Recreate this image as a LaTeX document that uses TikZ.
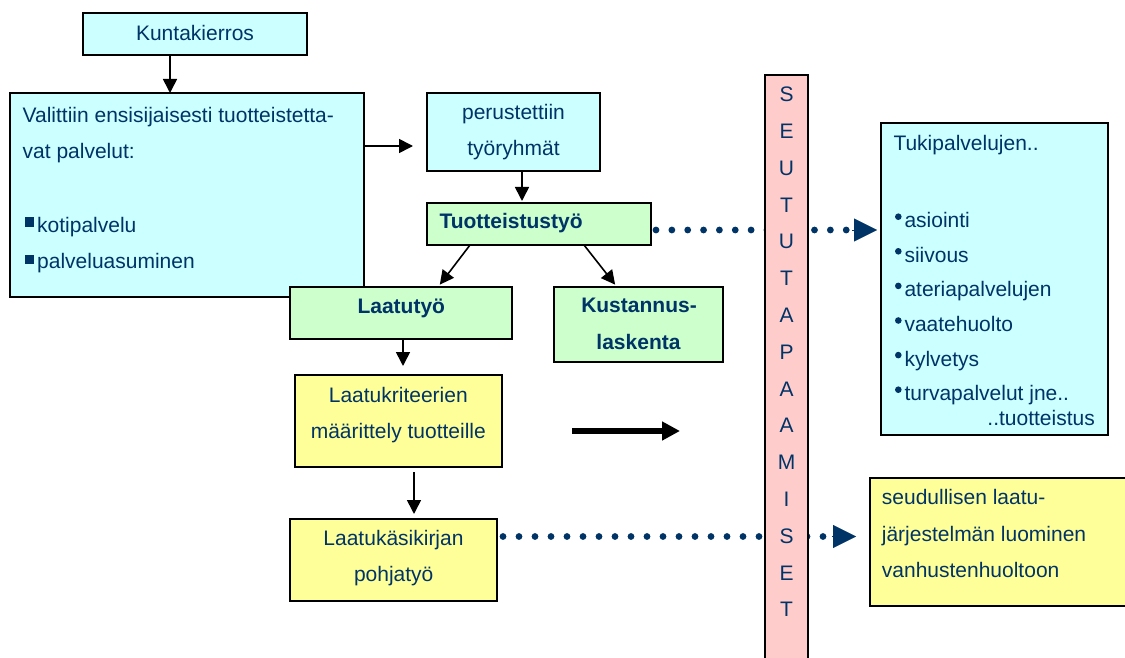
\documentclass[tikz,border=0pt]{standalone}
\usepackage{fontspec}
\setmainfont{Liberation Sans}
\usetikzlibrary{arrows.meta}
\definecolor{navy}{RGB}{0,51,102}
\definecolor{cyanfill}{HTML}{CCFFFF}
\definecolor{greenfill}{HTML}{CCFFCC}
\definecolor{yellowfill}{HTML}{FFFF99}
\definecolor{pinkfill}{HTML}{FFCCCC}
\tikzset{
  box/.style={draw=black, line width=1.7pt, inner sep=0pt, outer sep=0pt, anchor=north west},
  txt/.style={inner sep=0pt, text=navy, font=\fontsize{21}{25}\selectfont, anchor=base},
  ltxt/.style={txt, anchor=base west},
  arr/.style={line width=1.6pt, -{Triangle[length=14pt,width=14pt]}},
  bigarr/.style={line width=6pt, -{Triangle[length=18pt,width=18pt]}},
  dotline/.style={navy, line width=6.8pt, line cap=round, dash pattern=on 0pt off #1},
  dottip/.style={navy, line width=0.4pt, -{Triangle[length=23pt,width=23pt]}},
}
\begin{document}
\begin{tikzpicture}[x=1pt,y=-1pt]
\path[use as bounding box, clip] (0,0) rectangle (1125,658);

% boxes
\node[box, fill=cyanfill, minimum width=224pt, minimum height=42pt] (kunta) at (83,13) {};
\node[box, fill=cyanfill, minimum width=354pt, minimum height=204pt] (valit) at (10,93) {};
\node[box, fill=cyanfill, minimum width=173pt, minimum height=78pt] (perus) at (427,93) {};
\node[box, fill=greenfill, minimum width=224pt, minimum height=42pt] (tuot) at (427,203) {};
\node[box, fill=greenfill, minimum width=222pt, minimum height=52pt] (laatu) at (290,287) {};
\node[box, fill=greenfill, minimum width=169pt, minimum height=75pt] (kust) at (554,287) {};
\node[box, fill=yellowfill, minimum width=207pt, minimum height=92pt] (krit) at (295,375) {};
\node[box, fill=yellowfill, minimum width=207pt, minimum height=82pt] (kasik) at (290,519) {};
\node[box, fill=cyanfill, minimum width=227pt, minimum height=312pt] (tuki) at (881,123) {};
\node[box, fill=yellowfill, minimum width=262pt, minimum height=128pt] (seud) at (870,478) {};

% solid connectors
\draw[arr] (170,0 |- kunta.south) -- (170,0 |- valit.north);
\draw[arr, shorten >=14pt] (valit.east |- 0,146) -- (perus.west |- 0,146);
\draw[arr, shorten >=2pt] (522,0 |- perus.south) -- (522,0 |- tuot.north);
\draw[arr, shorten >=3pt] (470,0 |- tuot.south) -- (438,0 |- laatu.north);
\draw[arr, shorten >=3pt] (584,0 |- tuot.south) -- (617,0 |- kust.north);
\draw[arr, shorten >=9pt] (403,0 |- laatu.south) -- (403,0 |- krit.north);
\draw[arr, shorten <=5pt, shorten >=5pt] (414,0 |- krit.south) -- (414,0 |- kasik.north);
\draw[bigarr, shorten <=70pt, shorten >=85pt] (krit.east |- 0,431) -- (765,431) coordinate (barleft);

% dotted connectors with solid triangular heads
\draw[dotline=15.85pt, shorten <=5pt, shorten >=28pt] (tuot.east |- 0,230) -- (tuki.west |- 0,230);
\draw[dottip, shorten >=4pt] (852,230) -- (tuki.west |- 0,230);
\draw[dotline=16pt, shorten <=6pt, shorten >=37pt] (kasik.east |- 0,536.5) -- (seud.west |- 0,536.5);
\draw[dottip, shorten >=14pt] (832,536.5) -- (seud.west |- 0,536.5);

% vertical band
\node[box, fill=pinkfill, minimum width=43pt, minimum height=600pt] (bar) at (765,75) {};
\foreach \L [count=\i from 0] in {S,E,U,T,U,T,A,P,A,A,M,I,S,E,T}
  \node[txt] (bar-\i) at (786.5,101.7+36.8*\i) {\L};

% texts
\node[txt] (t-kunta) at (195,40.7) {Kuntakierros};
\node[ltxt] (t-valit1) at (22.5,122.3) {Valittiin ensisijaisesti tuotteistetta-};
\node[ltxt] (t-valit2) at (22.5,158.9) {vat palvelut:};
\fill[navy] (25,217.3) rectangle (34.4,226.7);
\node[ltxt] (t-koti) at (37,232.1) {kotipalvelu};
\fill[navy] (25,254.9) rectangle (34.4,264.3);
\node[ltxt] (t-palv) at (37,268.7) {palveluasuminen};

\node[txt] (t-perus1) at (513.5,119.5) {perustettiin};
\node[txt] (t-perus2) at (513.5,156) {työryhmät};
\node[ltxt, font=\fontsize{21}{25}\selectfont\bfseries] (t-tuot) at (439.3,228.3) {Tuotteistustyö};
\node[txt, font=\fontsize{21}{25}\selectfont\bfseries] (t-laatu) at (401.3,313.3) {Laatutyö};
\node[txt, font=\fontsize{21}{25}\selectfont\bfseries] (t-kust1) at (639,312.3) {Kustannus-};
\node[txt, font=\fontsize{21}{25}\selectfont\bfseries] (t-kust2) at (638.5,349.3) {laskenta};
\node[txt] (t-krit1) at (398.3,402.3) {Laatukriteerien};
\node[txt] (t-krit2) at (398.3,438.3) {määrittely tuotteille};
\node[txt] (t-kasik1) at (393.5,545) {Laatukäsikirjan};
\node[txt] (t-kasik2) at (393.7,581) {pohjatyö};

\node[ltxt] (t-tuki) at (893.3,150) {Tukipalvelujen..};
\foreach \w [count=\i from 0] in {asiointi,siivous,ateriapalvelujen,vaatehuolto,kylvetys,turvapalvelut jne..}{
  \fill[navy] (898.3,216.7+34.6*\i) circle (3.3);
  \node[ltxt] (t-tuki-\i) at (904.3,227.7+34.6*\i) {\w};
}
\node[txt, anchor=base east] (t-tuki-end) at (1095,425.7) {..tuotteistus};

\node[ltxt] (t-seud1) at (881.7,504) {seudullisen laatu-};
\node[ltxt] (t-seud2) at (881.7,541) {järjestelmän luominen};
\node[ltxt] (t-seud3) at (881.7,577.7) {vanhustenhuoltoon};
\end{tikzpicture}
\end{document}
